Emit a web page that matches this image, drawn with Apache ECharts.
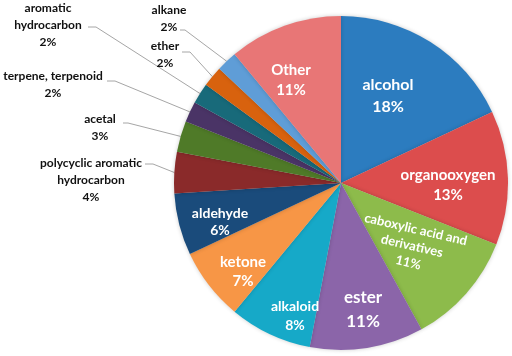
<!DOCTYPE html>
<html>
<head>
<meta charset="utf-8">
<script src="https://cdn.jsdelivr.net/npm/echarts@6/dist/echarts.min.js"></script>
<style>
  html, body { margin: 0; padding: 0; background: #fff; }
  #chart { width: 512px; height: 356px; }
</style>
</head>
<body>
<div id="chart"></div>
<script>
// categories, clockwise from 12 o'clock
var categories = [
    "alcohol", "organooxygen", "caboxylic acid and\nderivatives", "ester",
    "alkaloid", "ketone", "aldehyde", "polycyclic aromatic\nhydrocarbon",
    "acetal", "terpene, terpenoid", "aromatic\nhydrocarbon", "ether",
    "alkane", "Other"
];
// share in %
var shares = [18, 13, 11, 11, 8, 7, 6, 4, 3, 2, 2, 2, 2, 11];

var colors = [
    "#2c7cbf", "#dc4d4d", "#8dbb4b", "#8b65a9", "#16a9c8", "#f79646", "#1a4b7b",
    "#8a2a2a", "#4f7a28", "#4a3466", "#186a7a", "#d8620e", "#5f9dd7", "#e87676"
];

// label block centre, font size (inner) / leader line bend + end (outer)
var labelPlace = [
    { x: 388, y: 96, size: 16, lh: 22 },
    { x: 448, y: 185, size: 15, lh: 20 },
    { x: 412, y: 246, size: 13, lh: 17, rotate: -13 },
    { x: 363, y: 310, size: 17, lh: 24 },
    { x: 295, y: 316, size: 14, lh: 19 },
    { x: 243, y: 272, size: 15, lh: 19 },
    { x: 220, y: 222, size: 14, lh: 17 },
    { x: 91, y: 180, out: true, bend: [153, 164], end: [145, 164] },
    { x: 100, y: 128, out: true, bend: [128, 123], end: [123, 123] },
    { x: 53, y: 85, out: true, bend: [115, 81], end: [107, 81] },
    { x: 48, y: 25, out: true, bend: [96, 27], end: [88, 27] },
    { x: 165, y: 55, out: true, bend: [190, 52], end: [182, 52] },
    { x: 169, y: 19, out: true, bend: [185, 30], end: [180, 30] },
    { x: 291, y: 80, size: 15, lh: 20 }
];

var pieData = categories.map(function (name, i) {
    var p = labelPlace[i];
    var item = {
        name: name,
        value: shares[i],
        itemStyle: { color: colors[i] }
    };
    if (p.out) {
        item.label = {
            position: "outside",
            color: "#111",
            fontSize: 12,
            lineHeight: 17,
            fontWeight: "bold"
        };
        item.labelLine = { show: true };
    } else {
        item.label = {
            position: "inside",
            color: "#fff",
            fontSize: p.size,
            lineHeight: p.lh,
            fontWeight: "bold",
            rotate: p.rotate || 0
        };
        item.labelLine = { show: false };
    }
    return item;
});

var myChart = echarts.init(document.getElementById("chart"));
var option = {
    backgroundColor: "#fff",
    animation: false,
    series: [
        {
            type: "pie",
            center: [341, 183],
            radius: 167,
            startAngle: 90,
            clockwise: true,
            avoidLabelOverlap: false,
            itemStyle: {
                borderWidth: 0,
                shadowBlur: 4,
                shadowColor: "rgba(0,0,0,0.2)"
            },
            label: {
                fontFamily: "Lato",
                formatter: "{b}\n{c}%",
                align: "center"
            },
            labelLine: {
                lineStyle: { color: "#a6a6a6", width: 1 },
                smooth: false
            },
            labelLayout: function (params) {
                var p = labelPlace[params.dataIndex];
                var res = {
                    x: p.x,
                    y: p.y,
                    align: "center",
                    verticalAlign: "middle",
                    hideOverlap: false,
                    moveOverlap: null
                };
                if (p.out && params.labelLinePoints) {
                    res.labelLinePoints = [params.labelLinePoints[0], p.bend, p.end];
                }
                return res;
            },
            data: pieData
        }
    ]
};
myChart.setOption(option);
</script>
</body>
</html>
